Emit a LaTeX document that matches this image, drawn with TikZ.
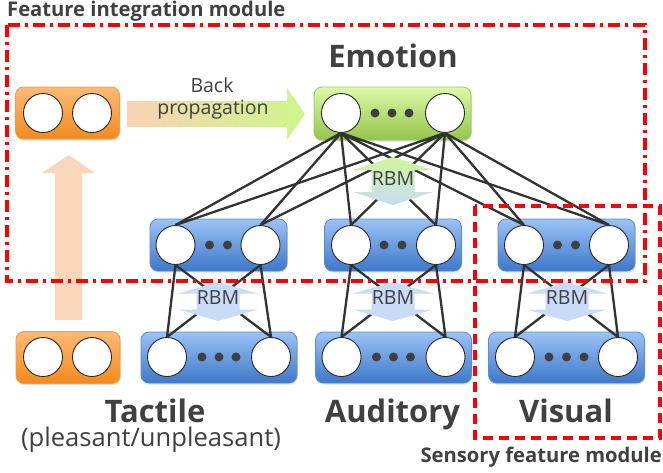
\documentclass[tikz,border=0pt]{standalone}
\usepackage{fontspec}
\setmainfont{Open Sans}
\usetikzlibrary{shadows}
\definecolor{txtgray}{HTML}{404040}
\definecolor{linegray}{HTML}{333333}
\definecolor{blueTop}{HTML}{9CC2F5}
\definecolor{blueBot}{HTML}{3D78C9}
\definecolor{blueEdge}{HTML}{5A8AD0}
\definecolor{greenTop}{HTML}{DDF8A8}
\definecolor{greenBot}{HTML}{93C649}
\definecolor{greenEdge}{HTML}{9DC65E}
\definecolor{orangeTop}{HTML}{FFBA75}
\definecolor{orangeBot}{HTML}{F28A1C}
\definecolor{orangeEdge}{HTML}{EE9C4A}
\definecolor{peach}{HTML}{F9D3B4}
\definecolor{limegreen}{HTML}{CDF68C}
\definecolor{rbmblue}{HTML}{C8DCF8}
\definecolor{rbmgreen}{HTML}{CFF69A}
\tikzset{
	layer/.style={
		rounded corners=8pt,
		line width=0.8pt,
		drop shadow={opacity=0.25,shadow xshift=0.8pt,shadow yshift=-1.6pt},
	},
	hidden/.style={layer,draw=blueEdge,top color=blueTop,bottom color=blueBot,
		minimum width=137pt,minimum height=52pt},
	input/.style={layer,draw=blueEdge,top color=blueTop,bottom color=blueBot,
		minimum width=156pt,minimum height=51pt},
	emotion/.style={layer,draw=greenEdge,top color=greenTop,bottom color=greenBot,
		minimum width=157pt,minimum height=53pt},
	label/.style={layer,draw=orangeEdge,top color=orangeTop,bottom color=orangeBot,
		minimum width=104pt,minimum height=52pt},
	unit/.style={
		circle,
		draw=black!85,
		fill=white,
		line width=0.9pt,
		minimum size=39pt,
		inner sep=0pt,
	},
	link/.style={draw=linegray,line width=2.3pt},
	module/.style={draw=red,line width=3.3pt,dash pattern=on 12pt off 5pt on 3pt off 5pt},
	sensory/.style={draw=red,line width=3.3pt,dash pattern=on 10pt off 6pt},
	caption/.style={inner sep=0pt,text=txtgray,font=\bfseries\fontsize{31}{36}\selectfont},
	modname/.style={inner sep=0pt,text=txtgray,font=\bfseries\fontsize{20.2}{24}\selectfont},
	note/.style={inner sep=0pt,text=txtgray,font=\fontsize{19.5}{23}\selectfont},
}
% double headed RBM arrow round (0,0): half length #1, half shaft length #2
\newcommand{\rbmpath}[2]{(0,-#1) -- (40,-#2) -- (21.5,-#2) -- (21.5,#2) -- (40,#2)
	-- (0,#1) -- (-40,#2) -- (-21.5,#2) -- (-21.5,-#2) -- (-40,-#2) -- cycle}

\begin{document}
\begin{tikzpicture}[x=1pt,y=-1pt]
	\useasboundingbox (0,0) rectangle (663,472);

	% big arrows at the left
	\fill[peach,opacity=0.9] (55,320) -- (55,173) -- (42,173) -- (68.5,155) -- (95,173)
		-- (82,173) -- (82,320) -- cycle;
	\shade[left color=peach,right color=limegreen] (127,101) -- (287,101) -- (287,88)
		-- (305,114) -- (287,140) -- (287,127) -- (127,127) -- cycle;
	\node[note,anchor=base] (back) at (212,92) {Back};
	\node[note,anchor=base] (prop) at (213,114) {propagation};

	% layers
	\node[emotion] (E) at (392.5,113.5) {};
	\node[label] (L) at (67.5,113) {};
	\node[label] (P) at (68,357.5) {};
	\node[hidden] (TH) at (218.5,245) {};
	\node[hidden] (AH) at (393,245) {};
	\node[hidden] (VH) at (566.5,245) {};
	\node[input] (TI) at (219,357.5) {};
	\node[input] (AI) at (393.5,357.5) {};
	\node[input] (VI) at (566.5,357.5) {};

	% units
	\node[unit] (E1) at (341,113) {};
	\node[unit] (E2) at (445,113) {};
	\node[unit] (L1) at (43,113) {};
	\node[unit] (L2) at (92,113) {};
	\node[unit] (P1) at (43,357) {};
	\node[unit] (P2) at (92,357) {};
	\node[unit] (TH1) at (175.5,245) {};
	\node[unit] (TH2) at (260.5,245) {};
	\node[unit] (AH1) at (351,245) {};
	\node[unit] (AH2) at (436,245) {};
	\node[unit] (VH1) at (524,245) {};
	\node[unit] (VH2) at (609,245) {};
	\node[unit] (TI1) at (167,357) {};
	\node[unit] (TI2) at (271,357) {};
	\node[unit] (AI1) at (341.5,357) {};
	\node[unit] (AI2) at (445.5,357) {};
	\node[unit] (VI1) at (515,357) {};
	\node[unit] (VI2) at (618,357) {};

	\fill[txtgray] (375,113) circle (4.5pt) (392,113) circle (4.5pt) (409,113) circle (4.5pt);
	\fill[txtgray] (209.5,245) circle (4.5pt) (227.5,245) circle (4.5pt);
	\fill[txtgray] (384,245) circle (4.5pt) (402,245) circle (4.5pt);
	\fill[txtgray] (557.5,245) circle (4.5pt) (575.5,245) circle (4.5pt);
	\fill[txtgray] (202,357) circle (4.5pt) (219,357) circle (4.5pt) (236,357) circle (4.5pt);
	\fill[txtgray] (376.5,357) circle (4.5pt) (393.5,357) circle (4.5pt) (410.5,357) circle (4.5pt);
	\fill[txtgray] (549,357) circle (4.5pt) (566.5,357) circle (4.5pt) (584,357) circle (4.5pt);

	% connections
	\draw[link] (E1.south) -- (TH1.north) (E1.south) -- (TH2.north)
		(E1.south) -- (AH1.north) (E1.south) -- (AH2.north)
		(E1.south) -- (VH1.north) (E1.south) -- (VH2.north);
	\draw[link] (E2.south) -- (TH1.north) (E2.south) -- (TH2.north)
		(E2.south) -- (AH1.north) (E2.south) -- (AH2.north)
		(E2.south) -- (VH1.north) (E2.south) -- (VH2.north);
	\draw[link] (TH1.south) -- (TI1.north) (TH1.south) -- (TI2.north)
		(TH2.south) -- (TI1.north) (TH2.south) -- (TI2.north);
	\draw[link] (AH1.south) -- (AI1.north) (AH1.south) -- (AI2.north)
		(AH2.south) -- (AI1.north) (AH2.south) -- (AI2.north);
	\draw[link] (VH1.south) -- (VI1.north) (VH1.south) -- (VI2.north)
		(VH2.south) -- (VI1.north) (VH2.south) -- (VI2.north);

	% RBM arrows
	\shade[top color=rbmgreen,bottom color=rbmblue,shift={(393,181)}] \rbmpath{24}{11};
	\fill[rbmblue,shift={(218,301.5)}] \rbmpath{19.5}{8};
	\fill[rbmblue,shift={(393,301.5)}] \rbmpath{19.5}{8};
	\fill[rbmblue,shift={(567,301.5)}] \rbmpath{19.5}{8};
	\node[note,anchor=base] (rbmE) at (393,185) {RBM};
	\node[note,anchor=base] (rbmT) at (218,304) {RBM};
	\node[note,anchor=base] (rbmA) at (393,304) {RBM};
	\node[note,anchor=base] (rbmV) at (567,304) {RBM};

	% modules
	\draw[module] (7,25) rectangle (645,281);
	\draw[sensory] (475,206) rectangle (660,438);
	\node[modname,anchor=base west] (fim) at (7,16) {Feature integration module};
	\node[modname,anchor=base east] (sfm) at (662,462) {Sensory feature module};

	% captions
	\node[caption,anchor=base] (emo) at (393,67) {Emotion};
	\node[caption,anchor=base] (tac) at (155,422) {Tactile};
	\node[caption,anchor=base] (aud) at (392.5,422) {Auditory};
	\node[caption,anchor=base] (vis) at (566,422) {Visual};
	\node[inner sep=0pt,text=txtgray,font=\fontsize{25.6}{30}\selectfont,anchor=base] (pls)
		at (151,446) {(pleasant/unpleasant)};
\end{tikzpicture}
\end{document}
